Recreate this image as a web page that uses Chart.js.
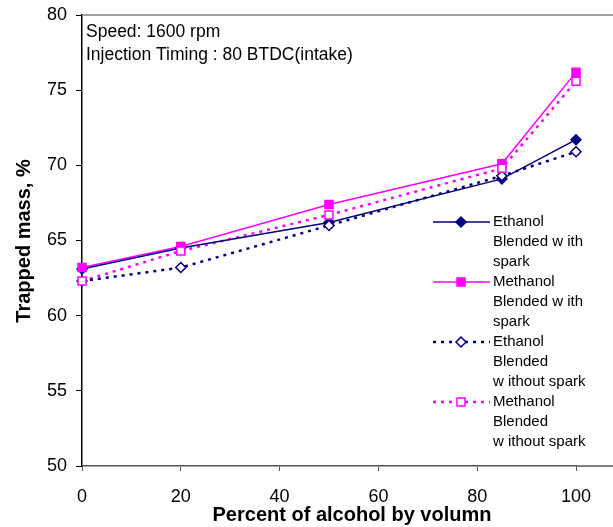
<!DOCTYPE html>
<html lang="en">
<head>
    <meta charset="UTF-8">
    <title>Trapped mass vs alcohol percent</title>
    <script src="https://cdn.jsdelivr.net/npm/chart.js"></script>
    <style>
        body { margin: 0; background: #fff; }
        #wrap { width: 613px; height: 527px; }
    </style>
</head>
<body>
    <div id="wrap"><canvas id="massChart"></canvas></div>

    <script>
        // data
        var alcoholPct = [0, 20, 50, 85, 100];
        var ethanolSpark = [63.1, 64.5, 66.2, 69.1, 71.7];
        var methanolSpark = [63.2, 64.6, 67.4, 70.1, 76.2];
        var ethanolNoSpark = [62.3, 63.2, 66.0, 69.3, 70.9];
        var methanolNoSpark = [62.3, 64.3, 66.7, 69.8, 75.6];
        var yTicks = [50, 55, 60, 65, 70, 75, 80];
        var xTicks = [0, 20, 40, 60, 80, 100];

        var legendLines = [
            ['Ethanol', 'Blended w ith', 'spark'],
            ['Methanol', 'Blended w ith', 'spark'],
            ['Ethanol', 'Blended', 'w ithout spark'],
            ['Methanol', 'Blended', 'w ithout spark']
        ];

        var NAVY = '#000080';
        var MAGENTA = '#FF00FF';
        var FONT = '"Liberation Sans", Arial, sans-serif';

        function pts(ys) {
            return alcoholPct.map(function(x, i) { return { x: x, y: ys[i] }; });
        }

        function drawMarker(ctx, style, x, y) {
            ctx.save();
            ctx.lineWidth = 1.5;
            ctx.strokeStyle = style.color;
            ctx.fillStyle = style.filled ? style.color : '#fff';
            ctx.beginPath();
            if (style.shape === 'diamond') {
                ctx.moveTo(x, y - 5); ctx.lineTo(x + 5, y); ctx.lineTo(x, y + 5); ctx.lineTo(x - 5, y); ctx.closePath();
            } else {
                ctx.rect(x - 4, y - 4, 8, 8);
            }
            ctx.fill();
            ctx.stroke();
            ctx.restore();
        }

        var styles = [
            { color: NAVY, shape: 'diamond', filled: true, dash: [] },
            { color: MAGENTA, shape: 'square', filled: true, dash: [] },
            { color: NAVY, shape: 'diamond', filled: false, dash: [3, 5] },
            { color: MAGENTA, shape: 'square', filled: false, dash: [3, 5] }
        ];

        var decorPlugin = {
            id: 'decor',
            afterDraw: function(chart) {
                var ctx = chart.ctx;
                var a = chart.chartArea;
                ctx.save();
                // top border and extended x axis to the right edge
                ctx.strokeStyle = '#808080';
                ctx.lineWidth = 1.5;
                ctx.beginPath();
                ctx.moveTo(a.left, a.top); ctx.lineTo(chart.width, a.top);
                ctx.stroke();
                ctx.strokeStyle = '#555';
                ctx.beginPath();
                ctx.moveTo(a.right, a.bottom); ctx.lineTo(chart.width, a.bottom);
                ctx.stroke();

                // notes
                ctx.fillStyle = '#000';
                ctx.font = '17.5px ' + FONT;
                ctx.textBaseline = 'middle';
                ctx.textAlign = 'left';
                ctx.fillText('Speed: 1600 rpm', 86, 32);
                ctx.fillText('Injection Timing : 80 BTDC(intake)', 86, 55);

                // axis titles
                ctx.font = 'bold 20px ' + FONT;
                ctx.textAlign = 'center';
                ctx.fillText('Percent of alcohol by volumn', 352, 515);
                ctx.save();
                ctx.translate(24, 241);
                ctx.rotate(-Math.PI / 2);
                ctx.fillText('Trapped mass, %', 0, 0);
                ctx.restore();

                // legend
                ctx.font = '15px ' + FONT;
                ctx.textAlign = 'left';
                var tops = [222, 282, 342, 402];
                styles.forEach(function(s, i) {
                    var y = tops[i];
                    ctx.save();
                    ctx.strokeStyle = s.color;
                    ctx.lineWidth = s.dash.length ? 2.5 : 1.5;
                    ctx.setLineDash(s.dash);
                    ctx.beginPath();
                    ctx.moveTo(433, y); ctx.lineTo(490, y);
                    ctx.stroke();
                    ctx.restore();
                    drawMarker(ctx, s, 461, y);
                    legendLines[i].forEach(function(t, j) {
                        ctx.fillText(t, 493, y + j * 20);
                    });
                });
                ctx.restore();
            }
        };

        var markerPlugin = {
            id: 'markers',
            afterDatasetsDraw: function(chart) {
                var ctx = chart.ctx;
                chart.data.datasets.forEach(function(ds, i) {
                    chart.getDatasetMeta(i).data.forEach(function(p) {
                        drawMarker(ctx, styles[i], p.x, p.y);
                    });
                });
            }
        };

        var series = [ethanolSpark, methanolSpark, ethanolNoSpark, methanolNoSpark];
        var names = ['Ethanol Blended with spark', 'Methanol Blended with spark',
                     'Ethanol Blended without spark', 'Methanol Blended without spark'];

        var ctx = document.getElementById('massChart').getContext('2d');
        var chart = new Chart(ctx, {
            type: 'line',
            data: {
                datasets: series.map(function(ys, i) {
                    return {
                        label: names[i],
                        data: pts(ys),
                        borderColor: styles[i].color,
                        borderWidth: styles[i].dash.length ? 2.5 : 1.5,
                        borderDash: styles[i].dash,
                        pointRadius: 0,
                        tension: 0,
                        fill: false
                    };
                })
            },
            plugins: [decorPlugin, markerPlugin],
            options: {
                responsive: true,
                maintainAspectRatio: false,
                animation: false,
                layout: { padding: { left: 0, top: 15, right: 37, bottom: 0 } },
                plugins: { legend: { display: false }, tooltip: { enabled: false } },
                scales: {
                    x: {
                        type: 'linear',
                        min: 0, max: 100,
                        afterBuildTicks: function(s) { s.ticks = xTicks.map(function(v) { return { value: v }; }); },
                        afterFit: function(s) { s.height = 61; s.paddingLeft = 0; s.paddingRight = 0; },
                        grid: { drawOnChartArea: false, tickLength: 5, color: '#555' },
                        border: { color: '#555', width: 1.5 },
                        ticks: { color: '#000', font: { size: 18, family: FONT }, padding: 15, maxRotation: 0 }
                    },
                    y: {
                        min: 50, max: 80,
                        afterBuildTicks: function(s) { s.ticks = yTicks.map(function(v) { return { value: v }; }); },
                        afterFit: function(s) { s.width = 82; s.paddingTop = 0; s.paddingBottom = 0; },
                        grid: { drawOnChartArea: false, tickLength: 6, color: '#000' },
                        border: { color: '#000', width: 1.5 },
                        ticks: { color: '#000', font: { size: 18, family: FONT }, padding: 9 }
                    }
                }
            }
        });
    </script>
</body>
</html>
